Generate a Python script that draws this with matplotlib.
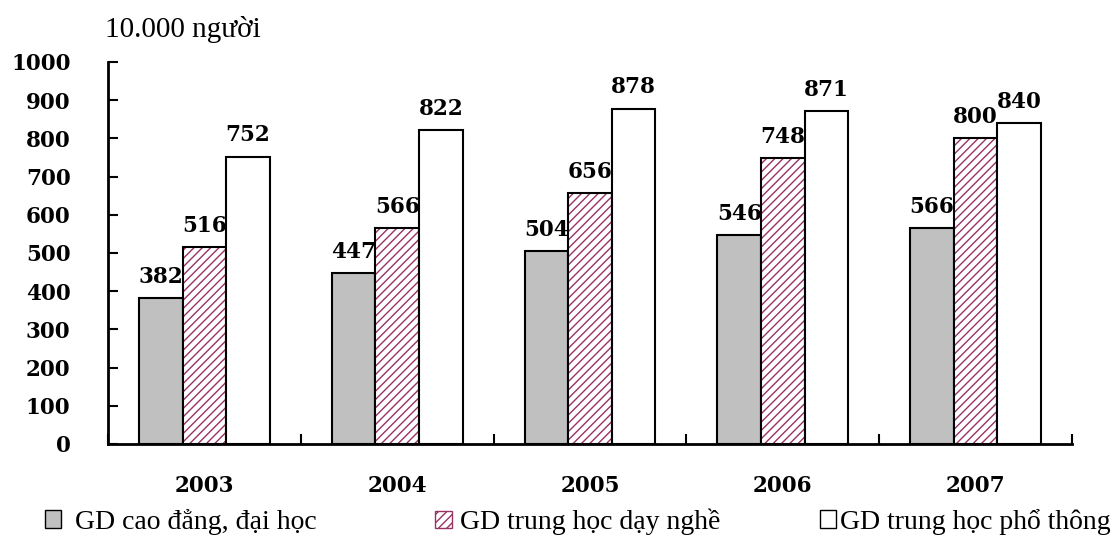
import numpy as np
import matplotlib.pyplot as plt
from matplotlib.patches import Patch

plt.rcParams['font.family'] = ['Liberation Serif', 'DejaVu Serif']
plt.rcParams['hatch.linewidth'] = 1.0

years = ['2003', '2004', '2005', '2006', '2007']
cao_dang = [382, 447, 504, 546, 566]
day_nghe = [516, 566, 656, 748, 800]
pho_thong = [752, 822, 878, 871, 840]
series_names = ['GD cao đẳng, đại học', 'GD trung học dạy nghề', 'GD trung học phổ thông']

bold_font = dict(family='DejaVu Serif', fontweight='bold', fontsize=15.5)

fig = plt.figure(figsize=(11.15, 5.41), dpi=100)
ax = fig.add_axes([0.0969, 0.1793, 0.8645, 0.7061])

x = np.arange(len(years))
w = 0.226
hatch_col = '#993366'

ax.bar(x - w, cao_dang, w, color='#c0c0c0', edgecolor='black', linewidth=1.5)
ax.bar(x, day_nghe, w, color='white', edgecolor=hatch_col, hatch='////', linewidth=0)
ax.bar(x, day_nghe, w, fill=False, edgecolor='black', linewidth=1.5)
ax.bar(x + w, pho_thong, w, color='white', edgecolor='black', linewidth=1.5)

for xs, vals in [(x - w, cao_dang), (x, day_nghe), (x + w, pho_thong)]:
    for xi, v in zip(xs, vals):
        ax.annotate(str(v), (xi, v), xytext=(0, 11), textcoords='offset points',
                    ha='center', va='baseline', **bold_font)

ax.set_xlim(-0.5, len(years) - 0.5)
ax.set_ylim(0, 1000)
ax.set_yticks(np.arange(0, 1001, 100))
ax.set_yticklabels([str(v) for v in range(0, 1001, 100)], **bold_font)
ax.set_xticks(np.arange(len(years) + 1) - 0.5)
ax.set_xticklabels([])
ax.set_xticks(x, minor=True)
ax.set_xticklabels(years, minor=True, **bold_font)
ax.tick_params(axis='x', which='major', direction='in', length=7, width=1.5)
ax.tick_params(axis='x', which='minor', length=0, pad=22)
ax.tick_params(axis='y', direction='in', length=7, width=1.5, pad=27)

for s in ['top', 'right']:
    ax.spines[s].set_visible(False)
for s in ['left', 'bottom']:
    ax.spines[s].set_linewidth(2)

fig.text(0.094, 0.932, '10.000 người', fontsize=21, ha='left', va='baseline')

handles = [Patch(facecolor='#c0c0c0', edgecolor='black'),
           Patch(facecolor='white', edgecolor=hatch_col, hatch='////'),
           Patch(facecolor='white', edgecolor='black')]
legend_x = [0.040, 0.390, 0.735]
text_pad = [0.5, 0.3, 0.12]
for h, name, lx, tp in zip(handles, series_names, legend_x, text_pad):
    fig.legend([h], [name], loc='center left', bbox_to_anchor=(lx, 0.035),
               frameon=False, fontsize=20, handlelength=0.6, handleheight=0.6,
               handletextpad=tp, borderaxespad=0, borderpad=0)

fig.savefig('out.png', dpi=100)
